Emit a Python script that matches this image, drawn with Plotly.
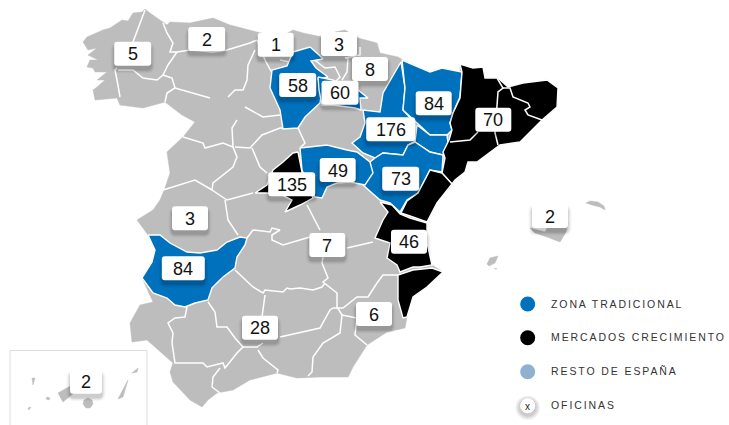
import plotly.graph_objects as go

GRAY = "#BDBDBD"
BLUE = "#0071BC"
BLACK = "#000000"
FONT = "Liberation Sans, Arial, sans-serif"

# ---- map outlines (map units) ----
mainland = [(83,42),(87,37),(103,30),(110,28),(122,20),(128,21),(133,13),(142,12),(145,9),(150,13),(167,25),(170,22),
 (190,23),(213,18),(230,25),(257,32),(280,37),(293,30),(303,33),(322,37),(335,32),(345,30),(358,38),(377,43),(380,53),
 (398,57),(403,60),(430,72),(442,68),(460,72),(460,64),(473,68),(483,67),(485,78),(498,78),(508,87),(523,83),(547,80),
 (558,88),(557,107),(542,120),(520,142),(500,145),(477,162),(468,162),(465,172),(455,180),(452,185),(437,203),(427,222),
 (427,243),(432,265),(443,272),(427,287),(413,297),(407,317),(405,328),(387,332),(367,345),(353,367),(348,377),(320,377),
 (297,378),(277,373),(250,380),(233,390),(217,393),(208,400),(202,407),(190,400),(173,382),(170,372),(173,363),(147,340),
 (132,342),(130,323),(140,305),(153,302),(142,278),(152,262),(155,250),(148,235),(137,220),(153,210),(160,200),(165,188),
 (170,173),(167,152),(183,137),(195,122),(182,115),(165,102),(143,108),(120,105),(117,98),(95,100),(93,90),(97,87),
 (105,80),(97,80),(107,72),(95,72),(93,68),(87,67),(90,60),(98,60),(88,55),(97,48),(88,50)]
mallorca = [(530,228),(545,232),(548,226),(568,223),(566,232),(560,242),(547,237),(535,233)]
menorca = [(586,203),(590,201),(598,202),(604,206),(605,210),(600,207),(592,205)]
ibiza = [(487,264),(490,258),(498,256),(495,263),(489,266)]
formentera = [(494,268),(497,268),(496,270)]
lanzarote = [(138,368),(132,373),(137,372)]
fuerteventura = [(128,380),(123,397),(118,399),(124,388)]
tenerife = [(58,393),(72,385),(75,392),(63,402)]
la_palma = [(32,378),(35,378),(33,385)]
la_gomera = [(47,397),(50,398),(49,400),(46,399)]
el_hierro = [(28,408),(31,407),(29,410)]
gran_canaria = [(84,400),(88,398),(92,400),(93,404),(90,408),(86,408),(83,404)]

zona_tradicional = {
 "Burgos": [(293,52),(310,47),(318,54),(323,59),(311,61),(316,68),(328,77),(318,79),(322,90),(320,103),(305,117),
            (298,128),(283,129),(280,110),(270,88),(272,70),(287,66)],
 "La Rioja": [(318,77),(333,80),(345,88),(358,90),(368,98),(360,98),(361,110),(355,108),(333,105),(322,105),(319,90)],
 "Zaragoza": [(398,67),(401,62),(405,88),(403,110),(415,123),(417,140),(408,145),(403,155),(383,153),(375,158),
              (363,153),(352,143),(360,137),(365,123),(363,110),(380,112),(383,93)],
 "Huesca": [(402,60),(430,72),(442,68),(462,72),(460,97),(453,113),(450,123),(452,130),(447,135),(430,135),(417,123),
            (403,110),(405,88)],
 "Teruel norte": [(417,125),(430,135),(447,135),(448,143),(443,155),(430,152),(415,142)],
 "Teruel": [(370,162),(375,158),(383,153),(403,155),(408,145),(415,142),(430,152),(443,155),(442,172),(430,170),
            (418,193),(407,200),(400,212),(390,203),(380,200),(363,185),(368,173)],
 "Guadalajara": [(300,148),(327,145),(347,150),(357,152),(370,162),(373,173),(365,185),(350,182),(337,183),(327,187),
                 (322,198),(315,197),(308,185),(302,170)],
 "Badajoz": [(148,235),(160,235),(170,243),(187,252),(200,253),(217,250),(227,242),(240,237),(247,238),(245,245),
             (237,257),(235,268),(223,277),(212,288),(208,300),(195,303),(185,307),(175,305),(167,298),(153,293),
             (142,278),(152,262),(155,250)],
}
mercados_crecimiento = {
 "Madrid": [(298,152),(302,172),(313,198),(300,205),(285,212),(292,200),(282,195),(267,193),(255,193),(267,185),
            (273,170),(283,162),(293,153)],
 "Cataluna": [(460,64),(473,68),(483,67),(485,78),(498,78),(508,87),(523,83),(547,80),(558,88),(557,107),(542,120),
              (520,142),(500,145),(477,162),(468,162),(465,172),(455,180),(452,184),(442,173),(445,158),(443,152),
              (449,140),(452,130),(450,123),(453,113),(460,98),(462,72)],
 "Castellon": [(442,173),(452,184),(437,203),(427,222),(410,216),(401,213),(407,201),(418,193),(430,170)],
 "Valencia": [(380,202),(392,205),(400,214),(410,218),(427,223),(427,243),(432,265),(420,267),(413,267),(400,272),
              (397,265),(387,258),(390,243),(375,238),(383,220),(388,212)],
 "Alicante": [(398,275),(413,270),(432,268),(443,272),(427,287),(413,297),(407,317),(403,318),(398,300),(398,287)],
}
borders = [
 [(145,10),(140,23),(133,42),(132,55)],
 [(117,68),(115,70),(117,80),(120,97)],
 [(118,70),(133,70),(143,78),(157,80),(163,75)],
 [(163,23),(167,33),(173,43),(170,52),(177,52),(168,65),(163,75)],
 [(177,52),(190,50),(213,52),(227,50),(250,43),(257,40)],
 [(255,50),(248,65),(247,80),(243,90),(235,90),(228,97)],
 [(163,75),(172,78),(175,88),(167,93),(165,102)],
 [(175,88),(193,93),(210,98)],
 [(245,107),(263,117),(280,115)],
 [(183,137),(203,143),(205,148),(223,143),(233,147),(232,128),(237,120)],
 [(233,147),(237,157),(233,167),(213,183),(212,190),(195,180),(163,190)],
 [(235,147),(250,148),(262,135),(280,128),(298,128)],
 [(252,148),(260,167),(267,173)],
 [(212,190),(227,200),(253,193)],
 [(298,128),(305,143),(300,148)],
 [(280,60),(290,62)],
 [(272,73),(265,60),(257,40)],
 [(312,58),(325,68),(335,67),(340,77),(335,82)],
 [(345,58),(348,58),(347,72),(342,80)],
 [(360,47),(360,55),(345,58)],
 [(225,200),(228,220),(238,235)],
 [(247,238),(253,230),(270,232),(272,228),(280,230),(272,235),(272,240),(283,245),(310,237)],
 [(307,205),(320,230)],
 [(347,248),(373,242)],
 [(323,257),(322,263),(328,278),(323,282),(337,293),(337,307),(342,315)],
 [(235,270),(253,287),(263,293),(265,290),(283,292),(287,288),(290,289),(300,288),(313,290),(322,287),(325,283)],
 [(265,295),(262,317)],
 [(187,307),(185,317),(175,318),(168,323),(173,333),(172,343),(175,363),(183,363),(203,363),(207,367),(223,363),
  (225,368),(237,353),(243,347)],
 [(208,302),(215,312),(217,327),(227,327),(235,338),(243,347),(257,347),(263,343)],
 [(220,368),(213,377),(212,387),(220,393)],
 [(258,350),(263,358),(278,370),(277,373)],
 [(280,337),(303,332),(320,328),(330,310),(333,308)],
 [(342,315),(340,333),(323,343),(313,357),(312,372),(308,376)],
 [(333,308),(343,308),(357,297),(368,297),(377,283),(383,275),(398,275)],
 [(342,315),(357,318),(355,335),(367,345)],
]
cataluna_borders = [
 [(497,78),(503,88),(498,92),(497,110),(495,133),(498,145)],
 [(450,142),(470,140),(478,132)],
 [(503,88),(510,88),(513,97),(528,103),(530,107),(525,110),(528,115),(542,120)],
]

# ---- office counts ----
office_counts = [5,2,1,3,8,58,60,84,70,176,49,73,135,3,7,46,84,28,6,2,2]
label_x = [132.7,206.7,275.7,339,370,297.7,340,433.7,493.3,390.7,337.7,400.7,291.7,190,327.3,409,183.3,260,374,550,86]
label_y = [53.7,39,44.7,44,69,85,92.7,103.3,119.7,129.3,170,178.7,184.3,218.3,245,241.7,268.3,327.7,314,216,381.7]
label_w = [37,37,36,36,36,37,37,36,36,49,36,37,47,36,36,36,43,36,36,36,32]

# ---- legend ----
legend_names = ["ZONA TRADICIONAL","MERCADOS CRECIMIENTO","RESTO DE ESPAÑA","OFICINAS"]
legend_colors = [BLUE,BLACK,"#8FB0D0","#FFFFFF"]
legend_y = [304,337.7,371.7,405.7]
legend_marker_x = 527.7
legend_text_x = 551

fig = go.Figure()

def area(points, color, line="#FFFFFF", width=1.4):
    xs = [p[0] for p in points] + [points[0][0]]
    ys = [p[1] for p in points] + [points[0][1]]
    fig.add_trace(go.Scatter(x=xs, y=ys, mode="lines", fill="toself", fillcolor=color,
                             line=dict(color=line, width=width), hoverinfo="skip", showlegend=False))

def polyline(points, width=1.5):
    fig.add_trace(go.Scatter(x=[p[0] for p in points], y=[p[1] for p in points], mode="lines",
                             line=dict(color="#FFFFFF", width=width), hoverinfo="skip", showlegend=False))

area(mainland, GRAY, line=GRAY, width=0.5)
for b in borders:
    polyline(b)
for isl in [mallorca, menorca, ibiza, lanzarote, fuerteventura, tenerife, la_palma, la_gomera, el_hierro, gran_canaria]:
    area(isl, GRAY, line=GRAY, width=0.5)
area(formentera, "#BFD7EA", line="#BFD7EA", width=0.3)
for poly in zona_tradicional.values():
    area(poly, BLUE)
for poly in mercados_crecimiento.values():
    area(poly, BLACK)
for b in cataluna_borders:
    polyline(b)

# legend markers
shadow_sizes = [24, 21, 18]
for s in shadow_sizes:
    fig.add_trace(go.Scatter(x=[legend_marker_x], y=[legend_y[3] + 2], mode="markers",
                             marker=dict(size=s, color="rgba(0,0,0,0.07)", line=dict(width=0)),
                             hoverinfo="skip", showlegend=False))
fig.add_trace(go.Scatter(x=[legend_marker_x]*4, y=legend_y, mode="markers",
                         marker=dict(size=15, color=legend_colors, line=dict(width=0)),
                         hoverinfo="skip", showlegend=False))
fig.add_trace(go.Scatter(x=[legend_text_x]*4, y=[v + 1 for v in legend_y], mode="text", text=legend_names,
                         textposition="middle right",
                         textfont=dict(family=FONT, size=10.5, color="#333333"),
                         hoverinfo="skip", showlegend=False))

def rounded(cx, cy, w, h, r):
    x0, x1, y0, y1 = cx - w/2, cx + w/2, cy - h/2, cy + h/2
    return (f"M{x0+r},{y0} L{x1-r},{y0} Q{x1},{y0} {x1},{y0+r} L{x1},{y1-r} Q{x1},{y1} {x1-r},{y1} "
            f"L{x0+r},{y1} Q{x0},{y1} {x0},{y1-r} L{x0},{y0+r} Q{x0},{y0} {x0+r},{y0} Z")

shapes = []
# Canary box
shapes.append(dict(type="path", path="M10,426 L10,350.5 L147,350.5 L147,426", line=dict(color="#DDDDDD", width=1),
                   layer="below"))
for cx, cy, w in zip(label_x, label_y, label_w):
    for grow, a in [(7, 0.03), (5, 0.04), (3, 0.06), (1, 0.08)]:
        shapes.append(dict(type="path", path=rounded(cx, cy + 4, w + grow, 24 + grow, 4 + grow/2),
                           fillcolor=f"rgba(0,0,0,{a})", line=dict(width=0), layer="above"))
    shapes.append(dict(type="path", path=rounded(cx, cy, w, 24, 3), fillcolor="#FFFFFF",
                       line=dict(width=0), layer="above"))

annotations = [dict(x=cx, y=cy + 0.5, text=str(v), showarrow=False, xref="x", yref="y",
                    font=dict(family=FONT, size=18, color="#111111"))
               for cx, cy, v in zip(label_x, label_y, office_counts)]
annotations.append(dict(x=legend_marker_x, y=legend_y[3] + 0.5, text="x", showarrow=False, xref="x", yref="y",
                        font=dict(family=FONT, size=10, color="#222222")))

fig.update_layout(
    width=729, height=425, autosize=False, margin=dict(l=0, r=0, t=0, b=0),
    paper_bgcolor="#FFFFFF", plot_bgcolor="#FFFFFF", showlegend=False,
    xaxis=dict(range=[0, 729], visible=False, fixedrange=True),
    yaxis=dict(range=[425, 0], visible=False, fixedrange=True),
    shapes=shapes, annotations=annotations,
)

post = """
document.body.style.margin='0';
document.documentElement.style.overflow='hidden';
var st=document.createElement('style');
st.textContent='.textpoint text{letter-spacing:1.9px;}';
document.head.appendChild(st);
"""
fig.write_html("out.html", post_script=post, config={"displayModeBar": False})
